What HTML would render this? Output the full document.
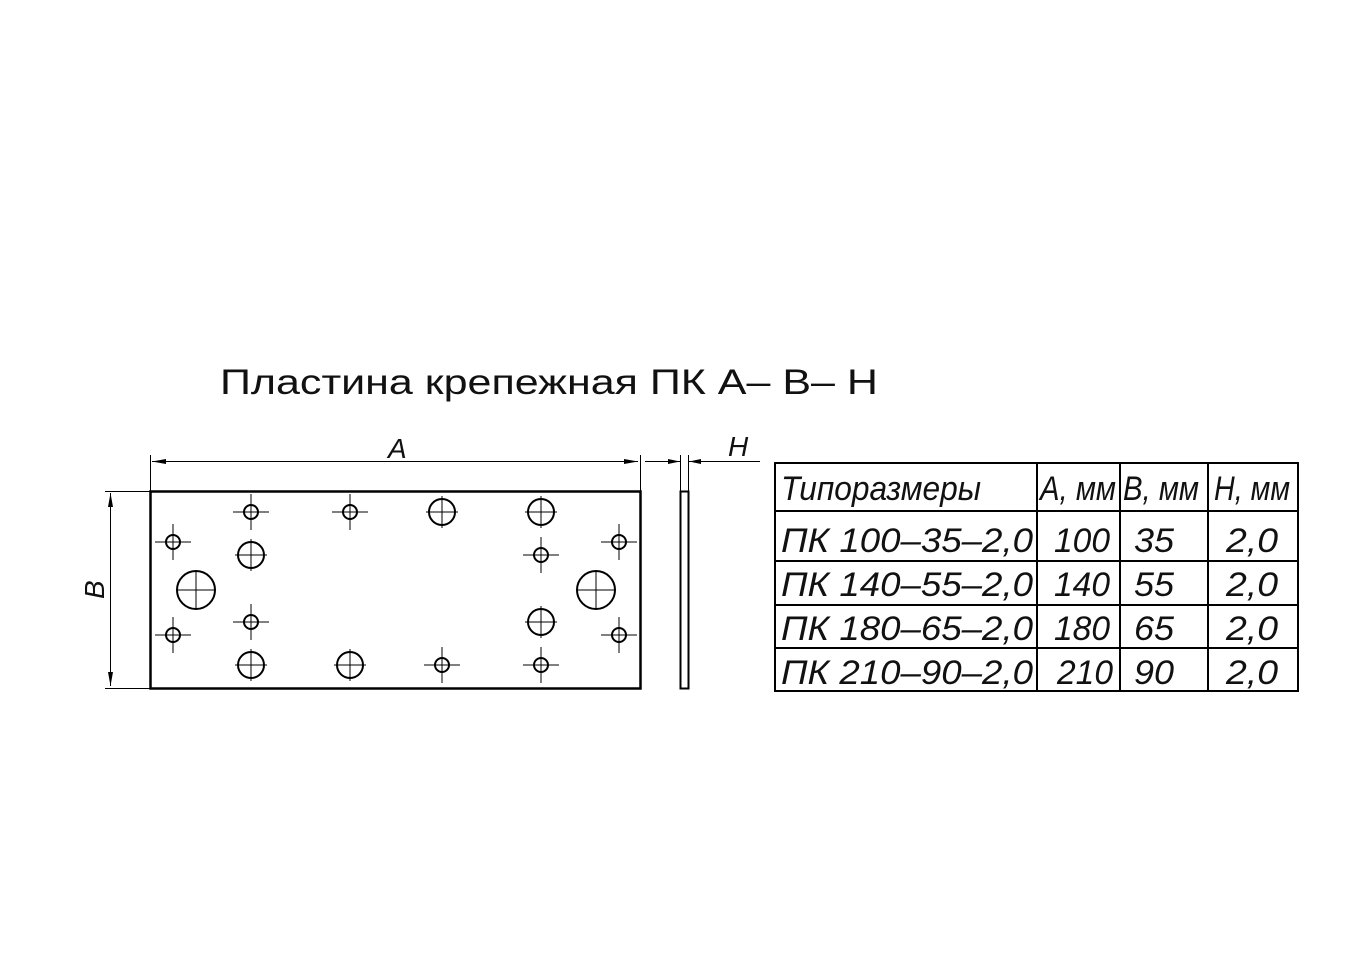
<!DOCTYPE html>
<html><head><meta charset="utf-8"><style>html,body{margin:0;padding:0;background:#fff}</style></head>
<body>
<svg width="1362" height="962" viewBox="0 0 1362 962" xmlns="http://www.w3.org/2000/svg" font-family="Liberation Sans, sans-serif">
<rect width="1362" height="962" fill="#fff"/>
<text x="220" y="394" font-size="35" textLength="658" lengthAdjust="spacingAndGlyphs" fill="#111">Пластина  крепежная  ПК  А– В– Н</text>
<g stroke="#000" fill="none">
<rect x="150.5" y="491.5" width="490" height="197" stroke-width="2.5"/>
<rect x="680.5" y="491.5" width="8" height="197" stroke-width="2"/>
<g stroke-width="1">
<line x1="150.5" y1="455" x2="150.5" y2="491"/>
<line x1="640.5" y1="455" x2="640.5" y2="491"/>
<line x1="152" y1="461.5" x2="638" y2="461.5"/>
<line x1="105" y1="491.5" x2="150" y2="491.5"/>
<line x1="105" y1="688.5" x2="150" y2="688.5"/>
<line x1="110.5" y1="493" x2="110.5" y2="686"/>
<line x1="680.5" y1="455" x2="680.5" y2="491"/>
<line x1="688.5" y1="455" x2="688.5" y2="491"/>
<line x1="645" y1="461.5" x2="680" y2="461.5"/>
<line x1="689" y1="461.5" x2="760" y2="461.5"/>
</g>
</g>
<g fill="#000">
<polygon points="152,461.5 166,459 166,464"/>
<polygon points="638,461.5 624,459 624,464"/>
<polygon points="110.5,493 108,507 113,507"/>
<polygon points="110.5,686 108,672 113,672"/>
<polygon points="680,461.5 668,459 668,464"/>
<polygon points="689,461.5 701,459 701,464"/>
</g>
<g font-style="italic" font-size="28" fill="#111">
<text x="388" y="458">A</text>
<text x="728" y="456">H</text>
<text transform="translate(104,599) rotate(-90)">B</text>
</g>
<g stroke="#000" fill="none" id="holes">
<g stroke-width="2">
<circle cx="251" cy="512" r="7"/><circle cx="350" cy="512" r="7"/>
<circle cx="442" cy="512" r="13"/><circle cx="541" cy="512" r="13"/>
<circle cx="173" cy="542" r="7"/><circle cx="619" cy="542" r="7"/>
<circle cx="251" cy="555" r="13"/><circle cx="541" cy="555" r="7"/>
<circle cx="196" cy="590" r="19"/><circle cx="596" cy="590" r="19"/>
<circle cx="173" cy="635" r="7"/><circle cx="251" cy="622" r="7"/>
<circle cx="541" cy="622" r="13"/><circle cx="619" cy="635" r="7"/>
<circle cx="251" cy="665" r="13"/><circle cx="350" cy="665" r="13"/>
<circle cx="442" cy="665" r="7"/><circle cx="541" cy="665" r="7"/>
</g>
<g stroke-width="1">
<path d="M233 512h36M251 494v36 M332 512h36M350 494v36 M426 512h32M442 496v32 M525 512h32M541 496v32
M155 542h36M173 524v36 M601 542h36M619 524v36
M235 555h32M251 539v32 M523 555h36M541 537v36
M177 590h38M196 571v38 M577 590h38M596 571v38
M155 635h36M173 617v36 M233 622h36M251 604v36 M525 622h32M541 606v32 M601 635h36M619 617v36
M235 665h32M251 649v32 M334 665h32M350 649v32 M424 665h36M442 647v36 M523 665h36M541 647v36"/>
</g>
</g>
<g stroke="#000" stroke-width="2" fill="none">
<rect x="775" y="463" width="523" height="228"/>
<line x1="775" y1="511" x2="1298" y2="511"/>
<line x1="775" y1="561" x2="1298" y2="561"/>
<line x1="775" y1="605" x2="1298" y2="605"/>
<line x1="775" y1="648" x2="1298" y2="648"/>
<line x1="1037" y1="463" x2="1037" y2="691"/>
<line x1="1120" y1="463" x2="1120" y2="691"/>
<line x1="1208" y1="463" x2="1208" y2="691"/>
</g>
<g font-style="italic" font-size="34" fill="#111">
<text x="781" y="500" textLength="200" lengthAdjust="spacingAndGlyphs">Типоразмеры</text>
<text x="1040" y="500" textLength="76" lengthAdjust="spacingAndGlyphs">A, мм</text>
<text x="1123" y="500" textLength="76" lengthAdjust="spacingAndGlyphs">B, мм</text>
<text x="1214" y="500" textLength="76" lengthAdjust="spacingAndGlyphs">H, мм</text>
<text x="781" y="552" textLength="252" lengthAdjust="spacingAndGlyphs">ПК 100–35–2,0</text>
<text x="1054" y="552" textLength="56" lengthAdjust="spacingAndGlyphs">100</text>
<text x="1134" y="552" textLength="40" lengthAdjust="spacingAndGlyphs">35</text>
<text x="1226" y="552" textLength="52" lengthAdjust="spacingAndGlyphs">2,0</text>
<text x="781" y="596" textLength="252" lengthAdjust="spacingAndGlyphs">ПК 140–55–2,0</text>
<text x="1054" y="596" textLength="56" lengthAdjust="spacingAndGlyphs">140</text>
<text x="1134" y="596" textLength="40" lengthAdjust="spacingAndGlyphs">55</text>
<text x="1226" y="596" textLength="52" lengthAdjust="spacingAndGlyphs">2,0</text>
<text x="781" y="640" textLength="252" lengthAdjust="spacingAndGlyphs">ПК 180–65–2,0</text>
<text x="1054" y="640" textLength="56" lengthAdjust="spacingAndGlyphs">180</text>
<text x="1134" y="640" textLength="40" lengthAdjust="spacingAndGlyphs">65</text>
<text x="1226" y="640" textLength="52" lengthAdjust="spacingAndGlyphs">2,0</text>
<text x="781" y="684" textLength="252" lengthAdjust="spacingAndGlyphs">ПК 210–90–2,0</text>
<text x="1057" y="684" textLength="56" lengthAdjust="spacingAndGlyphs">210</text>
<text x="1134" y="684" textLength="40" lengthAdjust="spacingAndGlyphs">90</text>
<text x="1226" y="684" textLength="52" lengthAdjust="spacingAndGlyphs">2,0</text>
</g>
</svg>
</body></html>
